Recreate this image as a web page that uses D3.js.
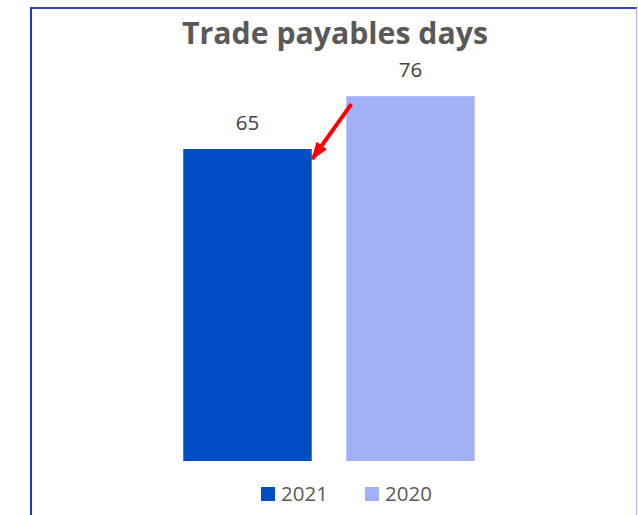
<!DOCTYPE html>
<html>
<head>
<meta charset="utf-8">
<script src="https://cdn.jsdelivr.net/npm/d3@7"></script>
<style>
  html, body { margin: 0; padding: 0; background: #ffffff; }
  svg { display: block; }
</style>
</head>
<body>
<svg id="chart" width="638" height="515"></svg>
<script>
// Chart data
const title = "Trade payables days";
const categories = ["2021", "2020"];
const values = [65, 76];
const colors = ["#004DC4", "#A2B0F5"];

const svg = d3.select("#chart");
const W = 638, H = 515;

// Frame of the chart area
svg.append("rect").attr("x", 0).attr("y", 0).attr("width", W).attr("height", H).attr("fill", "#ffffff");
svg.append("line").attr("x1", 31).attr("x2", 31).attr("y1", 8).attr("y2", H)
  .attr("stroke", "#1f35c9").attr("stroke-width", 2);
svg.append("line").attr("x1", 30).attr("x2", 637).attr("y1", 8).attr("y2", 8)
  .attr("stroke", "#2a43d0").attr("stroke-width", 2);
svg.append("line").attr("x1", 636.5).attr("x2", 636.5).attr("y1", 8).attr("y2", H)
  .attr("stroke", "#aab2ee").attr("stroke-width", 1);

// Scales
const x = d3.scaleBand().domain(categories).range([166, 492]).paddingInner(0.212).paddingOuter(0.106);
const y = d3.scaleLinear().domain([0, 80]).range([461, 77]);

// Title
const t = svg.append("text")
  .attr("x", 335).attr("y", 44)
  .attr("text-anchor", "middle")
  .attr("font-family", "'Open Sans', sans-serif")
  .attr("font-weight", "bold")
  .attr("font-size", 28)
  .attr("fill", "#595959")
  .text(title);
const tw = t.node().getComputedTextLength();
t.attr("font-size", 28 * 306 / tw);

// Bars
svg.selectAll("rect.bar").data(categories).join("rect")
  .attr("class", "bar")
  .attr("x", d => x(d))
  .attr("width", x.bandwidth())
  .attr("y", (d, i) => y(values[i]))
  .attr("height", (d, i) => y(0) - y(values[i]))
  .attr("fill", (d, i) => colors[i]);

// Value labels
svg.selectAll("text.val").data(categories).join("text")
  .attr("class", "val")
  .attr("x", d => x(d) + x.bandwidth() / 2)
  .attr("y", (d, i) => y(values[i]) - 19)
  .attr("text-anchor", "middle")
  .attr("font-family", "'Open Sans', sans-serif")
  .attr("font-size", 20.5)
  .attr("fill", "#404040")
  .text((d, i) => values[i]);

// Red arrow pointing at the 2021 bar
const defs = svg.append("defs");
defs.append("marker")
  .attr("id", "head")
  .attr("viewBox", "0 0 10 7")
  .attr("refX", 9).attr("refY", 3.5)
  .attr("markerWidth", 4.6).attr("markerHeight", 3.4)
  .attr("markerUnits", "strokeWidth")
  .attr("orient", "auto")
  .append("path").attr("d", "M0,0 L10,3.5 L0,7 Z").attr("fill", "#ff0000");

const tipX = x("2021") + x.bandwidth() + 0.5;
const tipY = y(values[0]) + 10;
const tailX = x("2020") + 5;
const tailY = y(values[1]) + 8;
svg.append("line")
  .attr("x1", tailX).attr("y1", tailY)
  .attr("x2", tipX).attr("y2", tipY)
  .attr("stroke", "#ff0000").attr("stroke-width", 4)
  .attr("marker-end", "url(#head)");

// Legend
const legendX = [261, 365];
const lg = svg.selectAll("g.legend").data(categories).join("g")
  .attr("class", "legend")
  .attr("transform", (d, i) => `translate(${legendX[i]},487)`);
lg.append("rect").attr("width", 14).attr("height", 14).attr("fill", (d, i) => colors[i]);
lg.append("text")
  .attr("x", 20).attr("y", 14)
  .attr("font-family", "'Open Sans', sans-serif")
  .attr("font-size", 20.5)
  .attr("fill", "#595959")
  .text(d => d);
</script>
</body>
</html>
